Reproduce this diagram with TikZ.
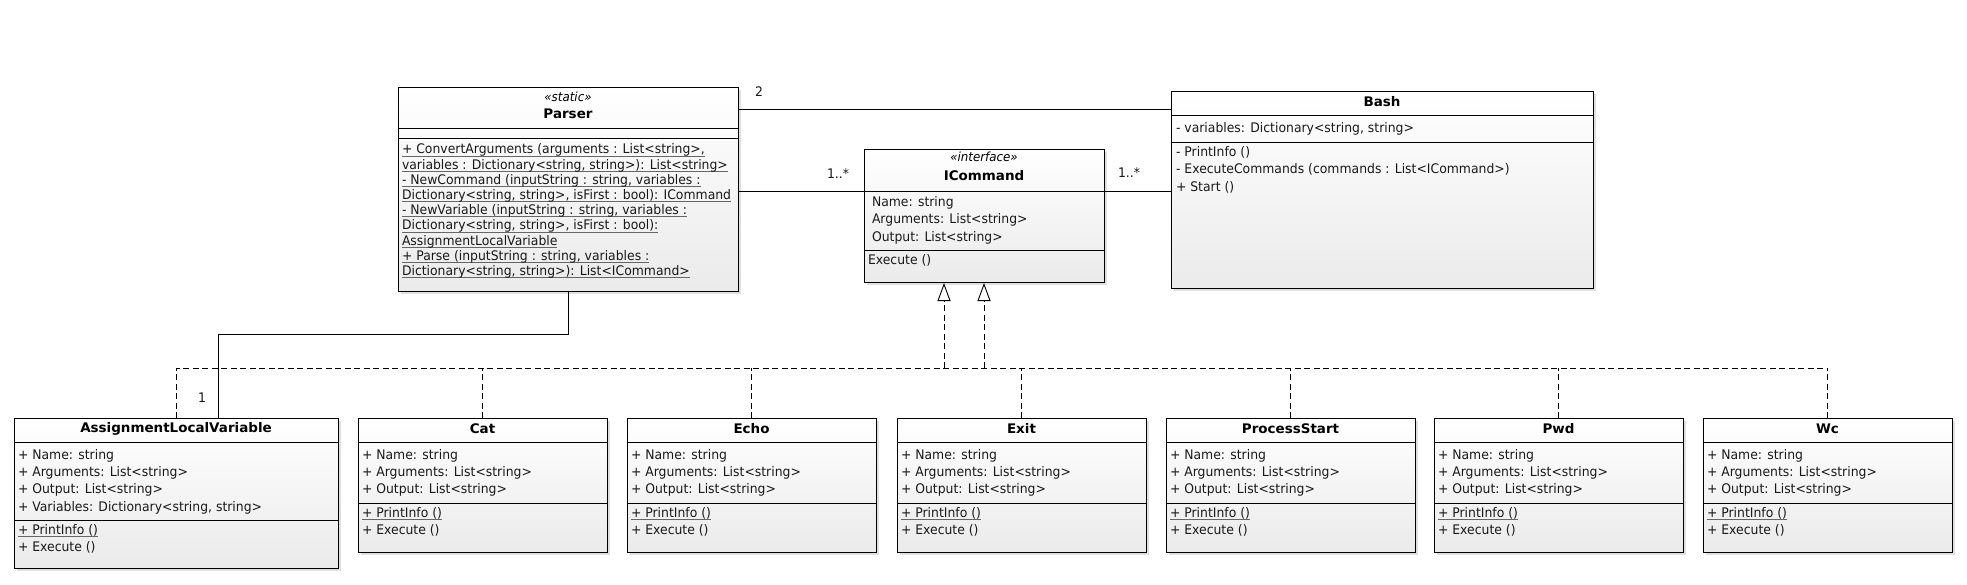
\documentclass[tikz,border=0pt]{standalone}
\usepackage{fontspec}
\setmainfont{DejaVu Sans}[FakeStretch=0.94]
\newfontfamily\ttlfont{DejaVu Sans}[FakeStretch=1.02]
\usetikzlibrary{arrows.meta,shadows}
\newcounter{tn}
\tikzset{
 cls/.style={draw=black, line width=1pt, inner sep=0pt, outer sep=0pt,
   top color=white, bottom color=black!8,
   drop shadow={shadow xshift=2.5pt, shadow yshift=-2.5pt, fill=black!30, opacity=0.4}},
 txt/.style={inner sep=0pt, outer sep=0pt, font=\fontsize{13.2}{15}\selectfont, text=black!90},
 ttl/.style={inner sep=0pt, outer sep=0pt, font=\ttlfont\bfseries\fontsize{13.2}{15}\selectfont},
 ster/.style={inner sep=0pt, outer sep=0pt, font=\itshape\fontsize{12.6}{15}\selectfont},
 sepline/.style={line width=0.9pt},
 assoc/.style={line width=0.9pt},
 realiz/.style={line width=0.9pt, dash pattern=on 6pt off 3.5pt},
}
\newsavebox\ulbox
\newcommand\ul[1]{\sbox\ulbox{#1}\rlap{\textcolor{black!60}{\rule[-2.6pt]{\wd\ulbox}{0.9pt}}}\usebox\ulbox}
\newcommand\tl[3]{\stepcounter{tn}\node[txt,anchor=base west] (t\arabic{tn}) at (#1,#2+4.5) {#3};}
\newcommand\tc[4][ttl]{\stepcounter{tn}\node[#1,anchor=base] (t\arabic{tn}) at (#2,#3+4.5) {#4};}
\newcommand\hsep[2]{\draw[sepline] (#1.west |- 0,#2) -- (#1.east |- 0,#2);}
\newcommand\cmdbox[3]{%
 \node[cls, minimum width=249, minimum height=134] (#1) at (#2,485) {};
 \tc{#2}{429}{#3}
 \hsep{#1}{442}\hsep{#1}{503}
 \tl{#2-120.5}{455}{+ Name: string}
 \tl{#2-120.5}{472}{+ Arguments: List<string>}
 \tl{#2-120.5}{489}{+ Output: List<string>}
 \tl{#2-120.5}{513}{\ul{+ PrintInfo ()}}
 \tl{#2-120.5}{530}{+ Execute ()}
}
\begin{document}
\begin{tikzpicture}[x=1pt,y=-1pt]
\useasboundingbox (0,0) rectangle (1967,585);

% ---------- Parser ----------
\node[cls, minimum width=340, minimum height=204] (parser) at (568,190) {};
\tc[ster]{568}{97}{«static»}
\tc{568}{114}{Parser}
\hsep{parser}{128}\hsep{parser}{138}
\tl{402}{149.5}{\ul{+ ConvertArguments (arguments : List<string>,}}
\tl{402}{164.7}{\ul{variables : Dictionary<string, string>): List<string>}}
\tl{402}{179.9}{\ul{- NewCommand (inputString : string, variables :}}
\tl{402}{195.1}{\ul{Dictionary<string, string>, isFirst : bool): ICommand}}
\tl{402}{210.3}{\ul{- NewVariable (inputString : string, variables :}}
\tl{402}{225.5}{\ul{Dictionary<string, string>, isFirst : bool):}}
\tl{402}{240.7}{\ul{AssignmentLocalVariable}}
\tl{402}{255.9}{\ul{+ Parse (inputString : string, variables :}}
\tl{402}{271.1}{\ul{Dictionary<string, string>): List<ICommand>}}

% ---------- ICommand ----------
\node[cls, minimum width=240, minimum height=133] (icmd) at (984,216.5) {};
\tc[ster]{984}{157}{«interface»}
\tc{984}{176}{ICommand}
\hsep{icmd}{191}\hsep{icmd}{250}
\tl{872}{202}{Name: string}
\tl{872}{219}{Arguments: List<string>}
\tl{872}{237}{Output: List<string>}
\tl{868}{260}{Execute ()}

% ---------- Bash ----------
\node[cls, minimum width=422, minimum height=197] (bash) at (1382,190.5) {};
\tc{1382}{102}{Bash}
\hsep{bash}{115}\hsep{bash}{142}
\tl{1176}{128}{- variables: Dictionary<string, string>}
\tl{1176}{152}{- PrintInfo ()}
\tl{1176}{169.5}{- ExecuteCommands (commands : List<ICommand>)}
\tl{1176}{187}{+ Start ()}

% ---------- AssignmentLocalVariable ----------
\node[cls, minimum width=324, minimum height=150] (alv) at (176,493) {};
\tc{176}{428}{AssignmentLocalVariable}
\hsep{alv}{442}\hsep{alv}{520}
\tl{18}{455}{+ Name: string}
\tl{18}{472}{+ Arguments: List<string>}
\tl{18}{489}{+ Output: List<string>}
\tl{18}{507}{+ Variables: Dictionary<string, string>}
\tl{18}{530}{\ul{+ PrintInfo ()}}
\tl{18}{547}{+ Execute ()}

% ---------- command classes ----------
\cmdbox{cat}{482.5}{Cat}
\cmdbox{echo}{751.5}{Echo}
\cmdbox{exit}{1021.5}{Exit}
\cmdbox{pstart}{1290.5}{ProcessStart}
\cmdbox{pwd}{1558.5}{Pwd}
\cmdbox{wc}{1827.5}{Wc}

% ---------- connectors ----------
\coordinate (ya) at (0,109);
\coordinate (yb) at (0,191);
\coordinate (yh) at (0,368);
\coordinate (k1) at (568,334);
\coordinate (k2) at (218,334);
\coordinate (r1) at (944,368);
\coordinate (r2) at (984,368);

\draw[assoc] (parser.east |- ya) -- (bash.west |- ya);
\draw[assoc] (parser.east |- yb) -- (icmd.west |- yb);
\draw[assoc] (icmd.east |- yb) -- (bash.west |- yb);
\draw[assoc] (parser.south) -- (k1) -- (k2) -- (alv.north -| k2);

\draw[realiz] (alv.north) -- (alv.north |- yh) -- (wc.north |- yh);
\foreach \n in {cat,echo,exit,pstart,pwd,wc}{
  \draw[realiz] (\n.north) -- (\n.north |- yh);
}
\draw[realiz, -{Triangle[length=18pt,width=13pt,fill=white]}] (r1) -- (icmd.south -| r1);
\draw[realiz, -{Triangle[length=18pt,width=13pt,fill=white]}] (r2) -- (icmd.south -| r2);

\node[txt] (l2) at (759,92) {2};
\node[txt] (lm1) at (838,174) {1..*};
\node[txt] (lm2) at (1129,173) {1..*};
\node[txt] (l1) at (202,398) {1};
\end{tikzpicture}
\end{document}
